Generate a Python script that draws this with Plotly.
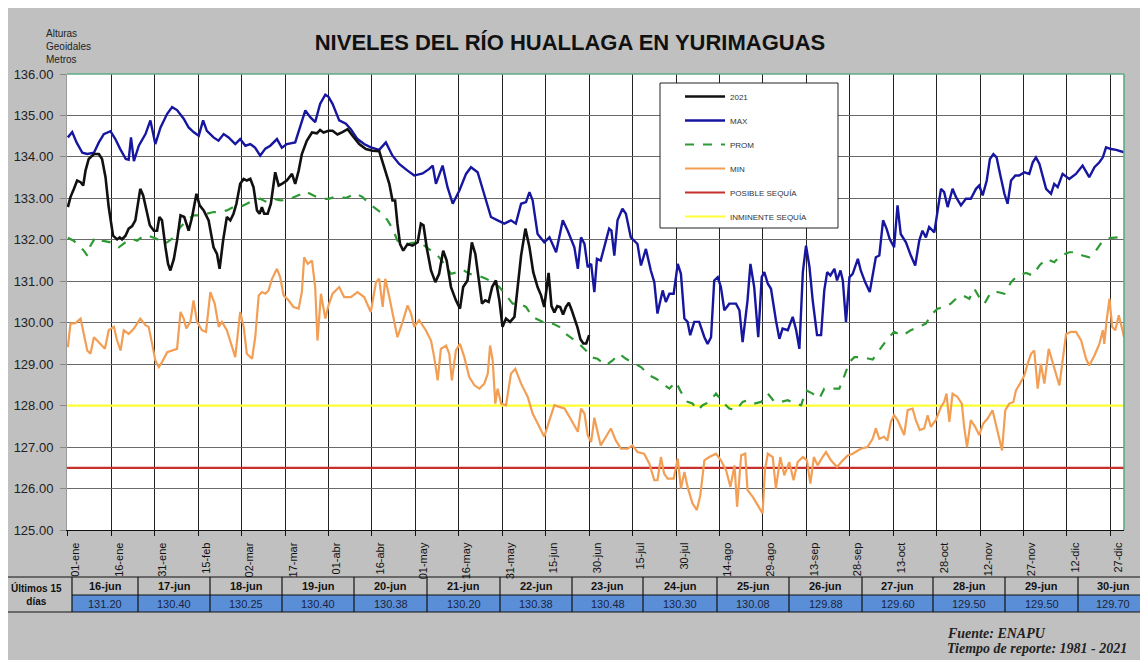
import plotly.graph_objects as go

# ---------------- data ----------------
tick_days = [1, 16, 31, 46, 61, 76, 91, 106, 121, 136, 151, 166, 181, 196, 211, 226,
             241, 256, 271, 286, 301, 316, 331, 346, 361]
tick_labels = ["01-ene", "16-ene", "31-ene", "15-feb", "02-mar", "17-mar", "01-abr", "16-abr",
               "01-may", "16-may", "31-may", "15-jun", "30-jun", "15-jul", "30-jul", "14-ago",
               "29-ago", "13-sep", "28-sep", "13-oct", "28-oct", "12-nov", "27-nov", "12-dic", "27-dic"]

max_days = [1, 2.5, 4, 6, 7.7, 10, 11.7, 13.4, 15.7, 17.4, 19, 21, 22, 22.8, 23.8, 25.5, 27.8, 29.5,
            31.2, 33, 35.3, 37, 38.7, 41, 42.7, 44.4, 46.2, 47.7, 49, 51.3, 53, 54.8, 56.5, 58.8,
            60.5, 62.3, 64, 65.7, 67.4, 69.2, 70.9, 73.2, 74.9, 76.6, 79.5, 81.2, 83, 84.7, 86.4,
            88.1, 89.9, 91, 92.4, 94.7, 97, 98.7, 101, 103.3, 105.6, 108.5, 110.8, 113.1, 115.4,
            118.3, 120.6, 123.5, 125.8, 127, 128.1, 130.4, 132.1, 133.9, 136.2, 138.5, 140.2,
            142.5, 144.8, 147.1, 149.4, 151.7, 154, 155.7, 157.5, 159.2, 160.4, 161.5, 163.2,
            165.5, 167.3, 169.6, 171.9, 173.6, 175.9, 177.1, 178.2, 179.4, 180.5, 181.7, 182.8,
            183.7, 185, 186.2, 187.9, 188.7, 189.7, 190.8, 192.5, 193.7, 195.4, 197.7, 198.9,
            200.6, 202.3, 203.5, 204.6, 206.4, 207.5, 208.7, 210.2, 211.6, 212.7, 213.9, 215,
            215.9, 217.3, 219, 220.8, 221.9, 223.1, 224.2, 225.4, 226.5, 227.7, 229.4, 231.7,
            232.9, 234, 235.7, 236.7, 238, 239.4, 240.6, 241.5, 242.7, 243.8, 245.5, 246.7,
            247.8, 249.6, 251.3, 252.5, 253.6, 254.8, 255.9, 257.1, 258.2, 259.7, 261.1, 262.2,
            263.2, 264.3, 265.7, 266.6, 267.8, 268.6, 269.7, 270.9, 272, 273.8, 274.8, 276.3,
            277.9, 280, 281.2, 282.5, 283.7, 284.8, 286.3, 287.5, 288.6, 290.4, 292.1, 293.6,
            295, 296.1, 297.3, 298.4, 300.2, 301.3, 302.5, 303.6, 304.8, 306.5, 307.7, 309.4,
            311.1, 312.8, 314.6, 315.7, 316.9, 318.3, 319.4, 320.6, 321.7, 322.9, 324.4, 325.5,
            326.7, 328.2, 329.5, 331.3, 333, 334.2, 335.3, 336.5, 337.6, 338.8, 340.5, 341.6,
            342.8, 344.5, 346.8, 349.1, 351.4, 353.7, 355.5, 357.2, 358.4, 359.5, 361.2, 363, 365.7]
max_vals = [134.47, 134.60, 134.35, 134.10, 134.07, 134.10, 134.35, 134.55, 134.62, 134.43, 134.20,
            133.95, 133.93, 134.47, 133.90, 134.27, 134.55, 134.88, 134.31, 134.71, 135.04, 135.20,
            135.13, 134.92, 134.71, 134.60, 134.51, 134.88, 134.63, 134.47, 134.39, 134.55, 134.47,
            134.31, 134.43, 134.27, 134.31, 134.22, 134.03, 134.20, 134.27, 134.43, 134.22, 134.31,
            134.35, 134.71, 135.12, 134.96, 134.84, 135.28, 135.50, 135.45, 135.28, 134.88, 134.80,
            134.67, 134.43, 134.31, 134.23, 134.17, 134.35, 134.03, 133.83, 133.67, 133.55, 133.60,
            133.71, 133.79, 133.35, 133.79, 133.27, 132.87, 133.19, 133.59, 133.75, 133.63, 133.11,
            132.55, 132.47, 132.39, 132.47, 132.39, 132.87, 132.91, 133.15, 132.95, 132.14, 131.94,
            132.06, 131.70, 132.47, 132.22, 131.82, 131.30, 132.06, 131.90, 131.34, 131.42, 130.74,
            131.54, 131.50, 131.82, 132.27, 132.22, 131.62, 132.47, 132.75, 132.63, 132.06, 131.90,
            131.38, 131.78, 131.26, 130.98, 130.22, 130.78, 130.50, 130.70, 130.70, 131.42, 131.18,
            130.10, 130.02, 129.70, 130.02, 130.02, 129.65, 129.49, 129.65, 131.02, 131.10, 130.86,
            130.30, 130.46, 130.46, 130.30, 129.53, 130.54, 131.42, 130.86, 129.65, 131.10, 131.22,
            130.94, 130.82, 130.06, 129.61, 129.86, 129.82, 130.14, 129.82, 129.37, 131.22, 131.86,
            131.34, 130.54, 129.70, 129.70, 130.78, 131.22, 131.14, 131.30, 131.02, 131.26, 131.02,
            130.02, 131.10, 131.18, 131.54, 131.26, 130.98, 130.74, 131.58, 131.62, 132.47, 132.27,
            132.02, 131.82, 132.83, 132.14, 131.94, 131.62, 131.38, 131.98, 132.22, 132.06, 132.31,
            132.18, 132.63, 133.23, 133.15, 132.79, 133.23, 133.03, 132.83, 132.99, 132.99, 133.23,
            133.31, 133.07, 133.43, 133.95, 134.07, 133.99, 133.59, 133.11, 132.87, 133.43, 133.55,
            133.55, 133.63, 133.59, 133.87, 133.99, 133.83, 133.55, 133.23, 133.11, 133.35, 133.27,
            133.59, 133.47, 133.59, 133.79, 133.51, 133.75, 133.87, 133.99, 134.23, 134.19, 134.17,
            134.11]

prom_days = [1, 3, 4.8, 6.5, 7.7, 8.8, 10.5, 12.8, 15.7, 18.6, 20.9, 23.2, 24.9, 27.2, 29.5, 31.8,
             33.5, 35.3, 37.6, 39.9, 42.1, 44.4, 46.7, 49, 51.3, 53.6, 55.9, 58.2, 60.5, 62.8, 65.1,
             67.4, 69.7, 72, 74.3, 76.6, 78.9, 81.2, 83, 84.7, 87, 89.3, 91, 93.5, 97, 100.4, 102.8,
             105, 107.4, 109.7, 111.4, 113.1, 114.8, 117.2, 119.5, 121.8, 124.1, 126.4, 128.7, 131,
             133.3, 135.6, 137.3, 139.6, 142.5, 145.4, 147.7, 150, 152.3, 154.6, 156.9, 159.2,
             161.5, 163.8, 166.1, 168.4, 170.7, 173, 175.3, 177.6, 179.9, 181.7, 183.9, 186.8,
             189.1, 191.4, 193.7, 196, 198.9, 201.8, 204.1, 206.4, 208.7, 211, 212.7, 215, 216.7,
             218.5, 220.2, 222.5, 224.8, 227.1, 229.4, 231.7, 234, 235.7, 238, 240.4, 242.7, 245,
             247.3, 249.6, 251.9, 254.2, 255.9, 258.2, 260.5, 262.2, 264.6, 267.4, 269.2, 270.9,
             272.6, 275.4, 278.9, 281.2, 284, 286.3, 289.2, 292.1, 295, 297.3, 299, 301.3, 303.6,
             305.9, 307.7, 310, 312.3, 314, 315.7, 317.5, 319.8, 322.1, 324.4, 326.7, 329, 331.9,
             334.2, 336.5, 338.8, 341.6, 343.9, 346.8, 349.1, 351.4, 353.7, 356, 358.4, 360.7,
             363.5, 365.7]
prom_vals = [132.05, 131.98, 131.86, 131.74, 131.62, 131.86, 132.06, 131.98, 131.94, 131.82, 131.94,
             132.02, 131.98, 132.10, 132.08, 132.02, 131.90, 131.94, 132.06, 132.31, 132.47, 132.59,
             132.59, 132.63, 132.67, 132.67, 132.71, 132.79, 132.79, 132.87, 132.95, 132.99, 132.91,
             132.99, 132.95, 132.96, 133.03, 133.09, 133.17, 133.11, 133.03, 132.99, 132.99, 133.04,
             133.01, 133.12, 133.03, 132.87, 132.75, 132.63, 132.47, 132.27, 131.98, 131.86, 131.92,
             131.94, 131.86, 131.74, 131.62, 131.42, 131.18, 131.22, 131.28, 131.18, 131.14, 131.06,
             130.98, 130.86, 130.66, 130.46, 130.46, 130.38, 130.14, 130.06, 129.98, 129.98, 129.90,
             129.73, 129.61, 129.49, 129.33, 129.17, 129.13, 128.97, 129.09, 129.25, 129.13, 129.05,
             128.93, 128.73, 128.65, 128.53, 128.41, 128.57, 128.33, 128.09, 128.05, 127.89, 128.01,
             128.09, 128.29, 128.09, 127.93, 127.89, 128.09, 128.13, 128.05, 128.09, 128.29, 128.09,
             128.09, 128.13, 128.05, 128.01, 128.37, 128.29, 128.17, 128.41, 128.41, 128.41, 128.73,
             129.05, 129.17, 129.17, 129.11, 129.33, 129.61, 129.78, 129.69, 129.82, 129.90, 129.98,
             130.18, 130.34, 130.38, 130.46, 130.58, 130.66, 130.58, 130.82, 130.62, 130.46, 130.74,
             130.74, 130.70, 130.98, 131.14, 131.20, 131.14, 131.38, 131.54, 131.46, 131.62, 131.70,
             131.70, 131.62, 131.58, 131.74, 131.98, 132.04, 132.06, 132.10]

min_days = [1, 1.9, 3.6, 5.4, 6.5, 7.7, 8.8, 10, 11.1, 12.3, 13.8, 15.1, 16.9, 18, 19.2, 20.3, 22,
            23.8, 26, 27.8, 28.9, 30.1, 31.2, 32.4, 33.5, 35.3, 37, 38.7, 39.9, 41, 41.9, 43.3,
            44.4, 45.6, 47.3, 48.7, 50.2, 51.7, 53.1, 54.2, 55.9, 57.1, 58.8, 60.5, 61.7, 62.8,
            64.6, 65.7, 66.9, 68, 69.2, 70.3, 71.5, 73.2, 74.3, 75.5, 77.2, 78.9, 80.7, 81.8, 82.6,
            83.8, 85.3, 86.4, 87.2, 88.4, 89.9, 91, 92.4, 94.7, 96.4, 98.7, 101, 103.3, 105.6,
            107.4, 108.5, 109.7, 110.6, 112, 113.1, 114.8, 116.6, 118.3, 119.5, 120.6, 122.3,
            124.6, 126.4, 127.5, 128.7, 129.8, 131.6, 132.7, 133.6, 135, 136.4, 137.9, 139.6,
            141.4, 143.1, 144.8, 146, 146.8, 147.7, 148.6, 149.4, 150.6, 152.3, 154, 155.5, 157.5,
            159.8, 161.5, 163.8, 165.5, 167.3, 169, 170.7, 172.5, 174.2, 175.9, 177.1, 178.2,
            179.4, 180.5, 181.7, 182.8, 183.9, 185, 186.8, 188.5, 190.2, 192, 194.3, 196, 197.7,
            200, 201.8, 203.5, 204.6, 205.8, 206.9, 208.1, 210.2, 211.6, 212.7, 213.9, 215, 216.7,
            218.2, 219.4, 220.8, 222.5, 224.8, 226.5, 228.3, 229.8, 231.2, 232.1, 233.5, 234.9,
            235.7, 237.5, 239.2, 240.9, 241.7, 242.7, 244.4, 245.5, 247, 248.4, 250.1, 251.6, 253,
            254.8, 256.2, 257.4, 258.6, 259.9, 261.6, 262.8, 264.5, 266.6, 268.6, 270.3, 272,
            273.8, 274.8, 277.1, 278.9, 280, 281.2, 282.9, 284, 285.2, 286.3, 287.5, 288.6, 289.8,
            291, 292.7, 293.8, 295.2, 296.7, 297.9, 299, 300.7, 302.5, 303.6, 304.4, 305.4, 306.5,
            308.2, 309.7, 310.5, 311.5, 312.8, 314.3, 315.7, 317.1, 318.6, 320.3, 322.1, 323.6,
            324.7, 326.1, 327.5, 328.4, 329.8, 331.3, 332.4, 333.6, 334.7, 335.9, 337, 338.2,
            339.7, 341.1, 342.2, 343.4, 344.5, 345.7, 347.4, 349.1, 350.9, 352.6, 353.7, 355.5,
            357.2, 358.4, 358.9, 359.7, 360.7, 361.6, 362.7, 363.9, 365.3, 365.7]
min_vals = [129.41, 129.98, 129.99, 130.10, 129.73, 129.33, 129.25, 129.65, 129.57, 129.49, 129.37,
            129.82, 129.90, 129.57, 129.33, 129.82, 129.73, 129.86, 130.10, 129.94, 129.90, 129.49,
            129.09, 128.93, 129.05, 129.29, 129.33, 129.37, 130.26, 130.10, 129.86, 130.02, 130.54,
            130.02, 129.82, 129.78, 130.74, 130.46, 129.90, 130.02, 129.82, 129.57, 129.17, 130.26,
            129.90, 129.25, 129.13, 129.65, 130.66, 130.74, 130.70, 130.78, 131.06, 131.30, 131.10,
            130.66, 130.54, 130.38, 130.34, 130.74, 131.58, 131.42, 131.50, 130.86, 129.57, 130.70,
            130.10, 130.42, 130.70, 130.86, 130.62, 130.62, 130.74, 130.62, 130.26, 130.98, 131.06,
            130.38, 131.06, 130.62, 130.22, 129.65, 130.02, 130.42, 130.22, 129.90, 130.06, 129.82,
            129.57, 129.17, 128.61, 129.37, 129.45, 129.25, 128.61, 129.33, 129.49, 129.17, 128.69,
            128.49, 128.41, 128.53, 128.77, 129.45, 129.09, 128.05, 128.41, 128.05, 128.01, 128.77,
            128.89, 128.53, 128.21, 127.81, 127.49, 127.25, 127.65, 128.01, 127.97, 127.93, 127.73,
            127.53, 127.37, 127.93, 127.81, 127.29, 127.12, 127.71, 127.33, 127.04, 127.25, 127.45,
            127.16, 126.96, 126.96, 127.04, 126.88, 126.84, 126.60, 126.20, 126.20, 126.76, 126.36,
            126.24, 126.24, 126.72, 126.00, 126.40, 126.04, 125.64, 125.48, 125.84, 126.68, 126.76,
            126.84, 126.68, 126.44, 126.04, 126.56, 125.56, 126.80, 126.84, 125.96, 125.80, 125.60,
            125.40, 126.44, 126.84, 126.76, 126.00, 126.76, 126.32, 126.64, 126.20, 126.64, 126.76,
            126.68, 126.12, 126.76, 126.56, 126.76, 126.88, 126.68, 126.52, 126.68, 126.80, 126.84,
            126.92, 126.96, 127.00, 127.20, 127.45, 127.20, 127.25, 127.16, 127.61, 127.77, 127.65,
            127.49, 127.29, 127.89, 127.93, 127.65, 127.41, 127.45, 127.77, 127.49, 127.65, 127.97,
            128.09, 128.29, 127.61, 128.29, 128.21, 128.05, 127.49, 127.00, 127.65, 127.49, 127.29,
            127.57, 127.69, 127.89, 127.37, 126.92, 127.89, 128.05, 128.09, 128.37, 128.53, 128.73,
            129.01, 129.25, 129.33, 128.41, 129.01, 128.53, 129.37, 129.01, 128.77, 128.49, 129.09,
            129.73, 129.78, 129.78, 129.57, 129.13, 128.97, 129.21, 129.49, 129.82, 129.49, 130.06,
            130.58, 129.90, 129.82, 130.18, 129.78, 129.65]

y2021_days = [1, 1.9, 3.1, 4.2, 5.4, 6.3, 7.1, 8.2, 10, 11.7, 12.8, 14, 15.1, 16.6, 18, 18.9, 19.7,
              20.9, 22, 23.2, 24.3, 25.1, 26, 27, 28.1, 29.3, 30.7, 31.8, 32.6, 33.5, 34.7, 35.6,
              36.4, 37.6, 38.7, 39.9, 41.2, 42.7, 43.9, 45.4, 46.5, 47.9, 49.6, 51.3, 52.5, 53.4,
              54.6, 55.9, 57.1, 58.2, 59.2, 60.5, 61.7, 62.8, 64, 65.1, 66.3, 67.2, 68, 68.8, 70,
              71.1, 72.6, 73.8, 74.9, 76.6, 78.4, 79.5, 80.7, 81.8, 83.5, 85.3, 87, 88.1, 89.3, 91,
              92.4, 94.1, 95.8, 97.6, 99.3, 101.6, 103.9, 106.2, 108.5, 110.2, 112, 113.1, 114,
              114.8, 115.7, 116.8, 118.3, 120, 121.8, 122.9, 123.8, 125, 126.4, 127.9, 129.2, 130.6,
              131.8, 133.3, 135, 136.4, 137.5, 139, 140.5, 141.7, 142.8, 144, 145.1, 146.3, 147.5,
              148.8, 150, 151.1, 152.3, 153.7, 155.2, 156.3, 157.5, 159, 160.4, 161.7, 163.2, 164.4,
              165.5]
y2021_vals = [132.79, 133.03, 133.23, 133.43, 133.39, 133.31, 133.67, 133.95, 134.07, 134.07, 133.95,
              133.51, 132.79, 132.10, 132.01, 132.06, 132.01, 132.10, 132.27, 132.33, 132.47, 132.87,
              133.23, 133.07, 132.71, 132.35, 132.22, 132.22, 132.55, 132.47, 131.82, 131.42, 131.26,
              131.54, 131.98, 132.59, 132.55, 132.22, 132.55, 133.11, 132.83, 132.71, 132.47, 131.82,
              131.66, 131.30, 131.98, 132.55, 132.47, 132.63, 132.87, 133.35, 133.47, 133.43, 133.47,
              133.27, 132.71, 132.63, 132.79, 132.63, 132.63, 132.87, 133.63, 133.31, 133.35, 133.43,
              133.59, 133.35, 133.67, 134.07, 134.39, 134.59, 134.57, 134.65, 134.59, 134.63, 134.63,
              134.54, 134.60, 134.67, 134.51, 134.31, 134.19, 134.15, 134.14, 133.75, 133.35, 132.95,
              132.95, 132.39, 131.90, 131.74, 131.90, 131.86, 131.94, 132.39, 132.35, 131.78, 131.26,
              130.98, 131.18, 131.74, 131.50, 130.86, 130.54, 130.34, 130.86, 131.02, 131.94, 131.66,
              131.02, 130.46, 130.54, 130.50, 130.86, 131.02, 130.54, 129.90, 130.10, 130.02, 130.14,
              130.86, 131.62, 132.27, 131.82, 131.22, 130.86, 130.66, 130.38]

# last 15 days table (16-jun .. 30-jun 2021, day-of-year 167..181)
last15_dates = ["16-jun", "17-jun", "18-jun", "19-jun", "20-jun", "21-jun", "22-jun", "23-jun",
                "24-jun", "25-jun", "26-jun", "27-jun", "28-jun", "29-jun", "30-jun"]
last15_days = [167, 168, 169, 170, 171, 172, 173, 174, 175, 176, 177, 178, 179, 180, 181]
last15_vals = [131.20, 130.40, 130.25, 130.40, 130.38, 130.20, 130.38, 130.48, 130.30, 130.08,
               129.88, 129.60, 129.50, 129.50, 129.70]

posible_sequia = 126.5
inminente_sequia = 128.0

# ---------------- layout helpers ----------------
OFF = 8                      # page body margin: page coords -> figure coords
W, H = 1148 - OFF, 660 - OFF
PL, PR, PT, PB = 67 - OFF, 1124 - OFF, 74 - OFF, 530 - OFF


def px(x):
    """page x pixel -> paper fraction"""
    return (x - OFF - PL) / (PR - PL)


def py(y):
    """page y pixel -> paper fraction"""
    return (PB - (y - OFF)) / (PB - PT)


XR = [0.7, 365.7]

fig = go.Figure()

line_days = [XR[0], XR[1]]
fig.add_trace(go.Scatter(x=line_days, y=[inminente_sequia] * 2, mode="lines", name="INMINENTE SEQUÍA",
                         line=dict(color="#ffff33", width=2.2), legendrank=6, legendgroup="g6"))
fig.add_trace(go.Scatter(x=line_days, y=[posible_sequia] * 2, mode="lines", name="POSIBLE SEQUÍA",
                         line=dict(color="#c8302c", width=2.2), legendrank=5, legendgroup="g5"))
fig.add_trace(go.Scatter(x=min_days, y=min_vals, mode="lines", name="MIN",
                         line=dict(color="#f39e55", width=2.2), legendrank=4, legendgroup="g4"))
fig.add_trace(go.Scatter(x=prom_days, y=prom_vals, mode="lines", name="PROM",
                         line=dict(color="#2f9a35", width=2.2, dash="dash"), legendrank=3, legendgroup="g3"))
fig.add_trace(go.Scatter(x=max_days, y=max_vals, mode="lines", name="MAX",
                         line=dict(color="#1616a0", width=2.4), legendrank=2, legendgroup="g2"))
fig.add_trace(go.Scatter(x=y2021_days + last15_days, y=y2021_vals + last15_vals, mode="lines", name="2021",
                         line=dict(color="#111111", width=2.6), legendrank=1, legendgroup="g1"))

shapes = []
annotations = []

# green plot border (top, right)
shapes.append(dict(type="line", xref="paper", yref="paper", x0=0, x1=1, y0=1, y1=1,
                   line=dict(color="#5cad86", width=1.6), layer="above"))
shapes.append(dict(type="line", xref="paper", yref="paper", x0=1, x1=1, y0=0, y1=1,
                   line=dict(color="#5cad86", width=1.6), layer="above"))
# legend box
shapes.append(dict(type="rect", xref="paper", yref="paper", x0=px(660), x1=px(838), y0=py(228), y1=py(83),
                   fillcolor="white", line=dict(color="#222", width=1), layer="above"))

# ---- table of last 15 days ----
col_edges = [72, 138, 210, 282, 354, 427, 500, 572, 643, 717, 789, 862, 933, 1005, 1078, 1148]
T_TOP, T_MID, T_BOT = 577, 595, 612
for i, (d, v) in enumerate(zip(last15_dates, last15_vals)):
    x0, x1 = col_edges[i], col_edges[i + 1]
    shapes.append(dict(type="rect", xref="paper", yref="paper", x0=px(x0), x1=px(x1), y0=py(T_BOT), y1=py(T_MID),
                       fillcolor="#5a8fd8", line=dict(width=0), layer="above"))
    annotations.append(dict(xref="paper", yref="paper", x=px((x0 + x1) / 2), y=py((T_TOP + T_MID) / 2),
                            xanchor="center", yanchor="middle",
                            text="<b>%s</b>" % d, showarrow=False,
                            font=dict(size=11, color="#111", family="Liberation Sans")))
    annotations.append(dict(xref="paper", yref="paper", x=px((x0 + x1) / 2), y=py((T_MID + T_BOT) / 2),
                            xanchor="center", yanchor="middle",
                            text="%.2f" % v, showarrow=False,
                            font=dict(size=11, color="#1b2440", family="Liberation Sans")))
for y_ in (T_TOP, T_BOT):
    shapes.append(dict(type="line", xref="paper", yref="paper", x0=px(OFF), x1=px(1148), y0=py(y_), y1=py(y_),
                       line=dict(color="#111", width=1.2), layer="above"))
shapes.append(dict(type="line", xref="paper", yref="paper", x0=px(col_edges[0]), x1=px(1148), y0=py(T_MID), y1=py(T_MID),
                   line=dict(color="#111", width=1.2), layer="above"))
for xe in col_edges[:-1]:
    shapes.append(dict(type="line", xref="paper", yref="paper", x0=px(xe), x1=px(xe), y0=py(T_BOT), y1=py(T_TOP),
                       line=dict(color="#111", width=1.2), layer="above"))
annotations.append(dict(xref="paper", yref="paper", x=px(37), y=py((T_TOP + T_BOT) / 2),
                        xanchor="center", yanchor="middle",
                        text="<b>Últimos 15<br>días</b>", showarrow=False, align="center",
                        font=dict(size=10, color="#111", family="Liberation Sans")))

# y-axis caption
annotations.append(dict(xref="paper", yref="paper", x=px(44), y=py(26), xanchor="left", yanchor="top",
                        text="Alturas<br>Geoidales<br>Metros", showarrow=False, align="left",
                        font=dict(size=10, color="#222", family="Liberation Sans")))
# footer
annotations.append(dict(xref="paper", yref="paper", x=px(945), y=py(633), xanchor="left", yanchor="middle",
                        text="<b><i>Fuente: ENAPU</i></b>", showarrow=False,
                        font=dict(size=14, color="#222", family="Liberation Serif")))
annotations.append(dict(xref="paper", yref="paper", x=px(945), y=py(649), xanchor="left", yanchor="middle",
                        text="<b><i>Tiempo de reporte: 1981 - 2021</i></b>", showarrow=False,
                        font=dict(size=14, color="#222", family="Liberation Serif")))

fig.update_layout(
    width=W, height=H,
    margin=dict(l=PL, r=W - PR, t=PT, b=H - PB, pad=0, autoexpand=False),
    paper_bgcolor="#c0c0c0",
    plot_bgcolor="white",
    font=dict(family="Liberation Sans", color="#111"),
    title=dict(text="<b>NIVELES DEL RÍO HUALLAGA EN YURIMAGUAS</b>", x=(570 - OFF) / W, xanchor="center",
               xref="container", y=1 - (42 - OFF) / H, yanchor="middle", yref="container",
               font=dict(size=22, color="#111", family="Liberation Sans")),
    showlegend=True,
    legend=dict(x=px(680), y=py(82), xanchor="left", yanchor="top", bgcolor="rgba(0,0,0,0)",
                borderwidth=0, traceorder="grouped", tracegroupgap=5, itemwidth=40,
                font=dict(size=8, color="#333", family="Liberation Sans")),
    shapes=shapes,
    annotations=annotations,
    xaxis=dict(range=XR, tickmode="array", tickvals=tick_days, ticktext=tick_labels, tickangle=-90,
               showgrid=True, gridcolor="#222", gridwidth=1.4, zeroline=False, automargin=False,
               showline=True, linecolor="#111", linewidth=1.4,
               ticks="outside", ticklen=5, tickcolor="#111", tickwidth=1.2,
               ticklabelshift=8, ticklabelstandoff=2,
               tickfont=dict(size=11, color="#111", family="Liberation Sans")),
    yaxis=dict(range=[125, 136], dtick=1, tickformat=".2f", showgrid=True, gridcolor="#6a6a6a", gridwidth=1,
               zeroline=False, showline=True, linecolor="#9a9a9a", linewidth=1, automargin=False,
               ticks="outside", ticklen=6, tickcolor="#888", ticklabelstandoff=4,
               tickfont=dict(size=13, color="#222", family="Liberation Sans")),
)

fig.write_html("out.html")
